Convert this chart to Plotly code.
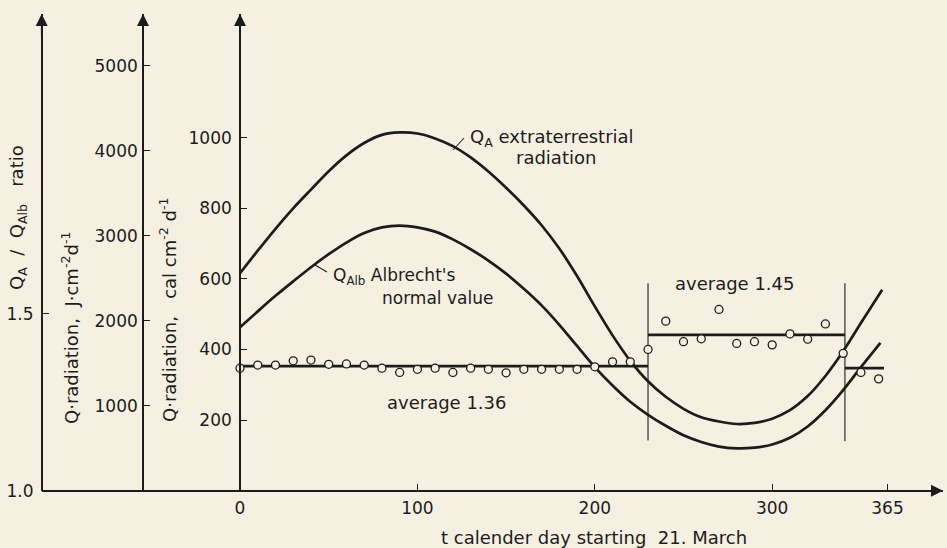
import plotly.graph_objects as go

W, H = 947, 548

# ---------------- data ----------------
# Q_A extraterrestrial radiation (cal cm-2 d-1) vs calendar day
qa_day = [0, 10, 20, 30, 40, 50, 60, 70, 80, 90, 100, 110, 120, 130, 140, 150,
          160, 170, 180, 190, 200, 210, 220, 230, 240, 250, 260, 270, 280, 290,
          300, 310, 320, 330, 340, 350, 362]
qa_cal = [616, 680, 742, 800, 853, 905, 950, 985, 1008, 1015, 1012, 998, 976, 944,
          904, 858, 808, 752, 686, 608, 522, 440, 368, 310, 266, 232, 208, 196, 189,
          192, 204, 228, 268, 325, 395, 475, 569]

# Q_Alb Albrecht's normal value (cal cm-2 d-1)
alb_day = [0, 10, 20, 30, 40, 50, 60, 70, 80, 90, 100, 110, 120, 130, 140, 150,
           160, 170, 180, 190, 200, 210, 220, 230, 240, 250, 260, 270, 280, 290,
           300, 310, 320, 330, 340, 350, 361]
alb_cal = [463, 508, 552, 593, 633, 670, 703, 730, 746, 751, 746, 734, 712, 684,
           652, 615, 572, 525, 470, 410, 350, 298, 252, 215, 184, 157, 138, 125,
           120, 122, 131, 150, 182, 228, 285, 350, 419]

# Q_A / Q_Alb ratio, every 10 days
ratio_day = list(range(0, 361, 10))
ratio_val = [1.346, 1.355, 1.355, 1.367, 1.369, 1.357, 1.358, 1.355, 1.346, 1.334,
             1.343, 1.346, 1.334, 1.346, 1.343, 1.333, 1.343, 1.343, 1.343, 1.343,
             1.350, 1.364, 1.364, 1.399, 1.479, 1.421, 1.429, 1.512, 1.416, 1.421,
             1.412, 1.443, 1.428, 1.471, 1.388, 1.334, 1.316]

# period averages of the ratio
avg_start = [0, 230, 341]
avg_end = [230, 341, 363]
avg_val = [1.352, 1.44, 1.346]
avg_labels = ["average 1.36", "average 1.45"]

# period boundaries (vertical lines, cal scale extent)
bound_day = [230, 341]
bound_low = [142, 140]
bound_high = [588, 588]

x_ticks = [0, 100, 200, 300, 365]
cal_ticks = [200, 400, 600, 800, 1000]
j_ticks = [1000, 2000, 3000, 4000, 5000]
ratio_ticks = [1.0, 1.5]

# ---------------- layout geometry (pixels) ----------------
def px(x):
    return x / W

def py(y):
    return 1 - y / H

X_AX = 240.0      # pixel of day 0 / cal axis
PX_PER_DAY = 1.774
Y_BASE = 490.7    # x-axis pixel row
Y_TOP = 14.0      # top of vertical axes
CAL_PX = 0.353    # px per cal
J_PX = 0.085      # px per J
R_PX = 354.0      # px per ratio unit
AX_RATIO = 41.7
AX_J = 143.0
AX_RIGHT = 943.0

x_range = [(AX_RATIO - X_AX) / PX_PER_DAY, (AX_RIGHT - X_AX) / PX_PER_DAY]
ydom = [py(Y_BASE), py(Y_TOP)]
cal_range = [0, (Y_BASE - Y_TOP) / CAL_PX]
j_range = [0, (Y_BASE - Y_TOP) / J_PX]
r_range = [1.0, 1.0 + (Y_BASE - Y_TOP) / R_PX]

INK = "#1c1c1c"
BG = "#f6f0e2"
FONT = "DejaVu Sans"

fig = go.Figure()

fig.add_trace(go.Scatter(x=qa_day, y=qa_cal, mode="lines",
                         line=dict(color=INK, width=2.7, shape="spline", smoothing=0.8),
                         xaxis="x", yaxis="y", showlegend=False, hoverinfo="skip"))
fig.add_trace(go.Scatter(x=alb_day, y=alb_cal, mode="lines",
                         line=dict(color=INK, width=2.7, shape="spline", smoothing=0.8),
                         xaxis="x", yaxis="y", showlegend=False, hoverinfo="skip"))

# empty trace so the J-scale axis gets drawn
fig.add_trace(go.Scatter(x=[None], y=[None], mode="lines", xaxis="x", yaxis="y2",
                         showlegend=False, hoverinfo="skip"))

for d, lo, hi in zip(bound_day, bound_low, bound_high):
    fig.add_trace(go.Scatter(x=[d, d], y=[lo, hi], mode="lines",
                             line=dict(color=INK, width=1.1),
                             xaxis="x", yaxis="y", showlegend=False, hoverinfo="skip"))

for s, e, v in zip(avg_start, avg_end, avg_val):
    fig.add_trace(go.Scatter(x=[s, e], y=[v, v], mode="lines",
                             line=dict(color=INK, width=2.7),
                             xaxis="x", yaxis="y3", showlegend=False, hoverinfo="skip"))

fig.add_trace(go.Scatter(x=ratio_day, y=ratio_val, mode="markers",
                         marker=dict(symbol="circle", size=8, color=BG,
                                     line=dict(color=INK, width=1.3)),
                         xaxis="x", yaxis="y3", showlegend=False))

axis_common = dict(showgrid=False, zeroline=False, showline=True, linecolor=INK,
                   linewidth=1.6, ticks="inside", ticklen=6, tickwidth=1.2,
                   tickcolor=INK, automargin=False,
                   tickfont=dict(family=FONT, size=17, color=INK))

fig.update_layout(
    template="none",
    width=W, height=H,
    margin=dict(l=0, r=0, t=0, b=0, pad=0, autoexpand=False),
    paper_bgcolor=BG, plot_bgcolor=BG,
    showlegend=False,
    xaxis=dict(domain=[px(AX_RATIO), px(AX_RIGHT)], range=x_range,
               anchor="free", position=py(Y_BASE),
               tickvals=x_ticks, ticktext=[str(t) for t in x_ticks],
               ticklabelstandoff=2, **axis_common),
    yaxis=dict(domain=ydom, range=cal_range, anchor="free", position=px(X_AX),
               tickvals=cal_ticks, ticktext=[str(t) for t in cal_ticks],
               ticklabelstandoff=4, **axis_common),
    yaxis2=dict(domain=ydom, range=j_range, anchor="free", position=px(AX_J),
                overlaying="y", side="left", tickvals=j_ticks,
                ticktext=[str(t) for t in j_ticks],
                ticklabelstandoff=1, **axis_common),
    yaxis3=dict(domain=ydom, range=r_range, anchor="free", position=px(AX_RATIO),
                overlaying="y", side="left", tickvals=ratio_ticks,
                ticktext=["1.0", "1.5"],
                ticklabelstandoff=4, **axis_common),
)

# axis arrow heads
arrow = dict(xref="paper", yref="paper", text="", showarrow=True, arrowhead=2,
             arrowsize=1.5, arrowwidth=1.6, arrowcolor=INK)
for ax_x in [AX_RATIO, AX_J, X_AX]:
    fig.add_annotation(x=px(ax_x), y=py(Y_TOP), ax=0, ay=24, **arrow)
fig.add_annotation(x=px(AX_RIGHT), y=py(Y_BASE), ax=-24, ay=0, **arrow)

def label(text, x, y, xanchor="center", angle=0, size=18):
    fig.add_annotation(x=px(x), y=py(y), xref="paper", yref="paper", text=text,
                       showarrow=False, xanchor=xanchor, yanchor="middle",
                       textangle=angle, font=dict(family=FONT, size=size, color=INK))

label("Q<sub>A</sub> extraterrestrial", 468, 138, xanchor="left")
label("radiation", 556, 157)
label("Q<sub>Alb</sub> Albrecht's", 331, 276, xanchor="left", size=17)
label("normal value", 380, 298, xanchor="left", size=17)
label(avg_labels[0], 447, 402)
label(avg_labels[1], 735, 283)
label("t calender day starting  21. March", 594, 537)
label("Q<sub>A</sub>  /  Q<sub>Alb</sub>   ratio", 18, 218, angle=-90)
label("Q·radiation,  J·cm<sup>-2</sup>d<sup>-1</sup>", 70, 328, angle=-90)
label("Q·radiation,   cal cm<sup>-2</sup> d<sup>-1</sup>", 168, 310, angle=-90)

# leader lines from curves to their labels
for (x0, y0, x1, y1) in [(453, 150, 464, 138), (315, 265, 327, 272)]:
    fig.add_shape(type="line", xref="paper", yref="paper",
                  x0=px(x0), y0=py(y0), x1=px(x1), y1=py(y1),
                  line=dict(color=INK, width=1.1))

fig.write_html("out.html")
